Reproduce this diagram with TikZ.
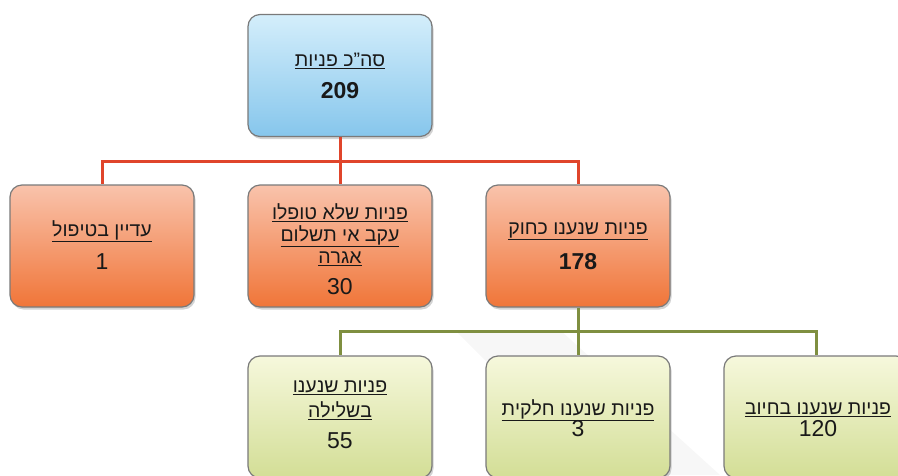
\documentclass[tikz,border=0pt]{standalone}
\usepackage{fontspec}
\setmainfont{Liberation Sans}
\TeXXeTstate=1
\usetikzlibrary{shadows}
\newcommand\heb[1]{\underline{\beginR #1\endR}}
\definecolor{bordergray}{HTML}{7A7A7A}
\definecolor{bluetop}{HTML}{D4EEFB}
\definecolor{bluebot}{HTML}{86C6EC}
\definecolor{orangetop}{HTML}{F9C3AC}
\definecolor{orangebot}{HTML}{F07538}
\definecolor{greentop}{HTML}{F6F8DC}
\definecolor{greenbot}{HTML}{D3DE96}
\definecolor{redline}{HTML}{E0452B}
\definecolor{greenline}{HTML}{7F8F40}
\tikzset{
  box/.style={draw=bordergray, line width=1.2pt, rounded corners=12pt,
    minimum width=184pt, minimum height=122pt, inner sep=0pt,
    drop shadow={opacity=0.35, shadow xshift=1.5pt, shadow yshift=-2.5pt}},
  bluebox/.style={box, top color=bluetop, bottom color=bluebot},
  orangebox/.style={box, top color=orangetop, bottom color=orangebot},
  greenbox/.style={box, top color=greentop, bottom color=greenbot},
  lbl/.style={font=\fontsize{19.5}{23}\selectfont, text=black!90, inner sep=0pt, align=center},
  num/.style={font=\fontsize{23}{26}\selectfont, text=black!90, inner sep=0pt},
  bnum/.style={num, font=\fontsize{23}{26}\selectfont\bfseries},
  redconn/.style={draw=redline, line width=3pt},
  greenconn/.style={draw=greenline, line width=3pt},
}
\begin{document}
\begin{tikzpicture}[x=1pt, y=-1pt]
\useasboundingbox (0,0) rectangle (898,475);
\clip (0,0) rectangle (898,475);
% faint page-curl shading
\fill[black!3] (455,330) -- (560,330) -- (720,475) -- (600,475) -- cycle;
% boxes
\node[bluebox] (top) at (340,75.5) {};
\node[orangebox] (b1) at (102,246) {};
\node[orangebox] (b2) at (340,246) {};
\node[orangebox] (b3) at (578,246) {};
\node[greenbox] (c1) at (340,417) {};
\node[greenbox] (c2) at (578,417) {};
\node[greenbox] (c3) at (816,417) {};
% connectors
\coordinate (jr) at (340,161);
\coordinate (jg) at (578,331);
\draw[redconn] (top.south) -- (jr);
\draw[redconn] (jr) -| (b1.north);
\draw[redconn] (jr) -- (b2.north);
\draw[redconn] (jr) -| (b3.north);
\draw[greenconn] (b3.south) -- (jg);
\draw[greenconn] (jg) -| (c1.north);
\draw[greenconn] (jg) -- (c2.north);
\draw[greenconn] (jg) -| (c3.north);
% texts
\node[lbl] (topl) at (340,61) {\heb{סה"כ פניות}};
\node[bnum] (topn) at (340,91) {209};
\node[lbl] (b1l) at (102,231) {\heb{עדיין בטיפול}};
\node[num] (b1n) at (102,262) {1};
\node[lbl] (b2l1) at (340,213) {\heb{פניות שלא טופלו}};
\node[lbl] (b2l2) at (340,236) {\heb{עקב אי תשלום}};
\node[lbl] (b2l3) at (340,259) {\heb{אגרה}};
\node[num] (b2n) at (340,287) {30};
\node[lbl] (b3l) at (578,231) {\heb{פניות שנענו כחוק}};
\node[bnum] (b3n) at (578,262) {178};
\node[lbl] (c1l1) at (340,388) {\heb{פניות שנענו}};
\node[lbl] (c1l2) at (340,411) {\heb{בשלילה}};
\node[num] (c1n) at (340,441) {55};
\node[lbl] (c2l) at (578,410) {\heb{פניות שנענו חלקית}};
\node[num] (c2n) at (578,429) {3};
\node[lbl] (c3l) at (818,410) {\heb{פניות שנענו בחיוב}};
\node[num] (c3n) at (818,429) {120};
\end{tikzpicture}
\end{document}
